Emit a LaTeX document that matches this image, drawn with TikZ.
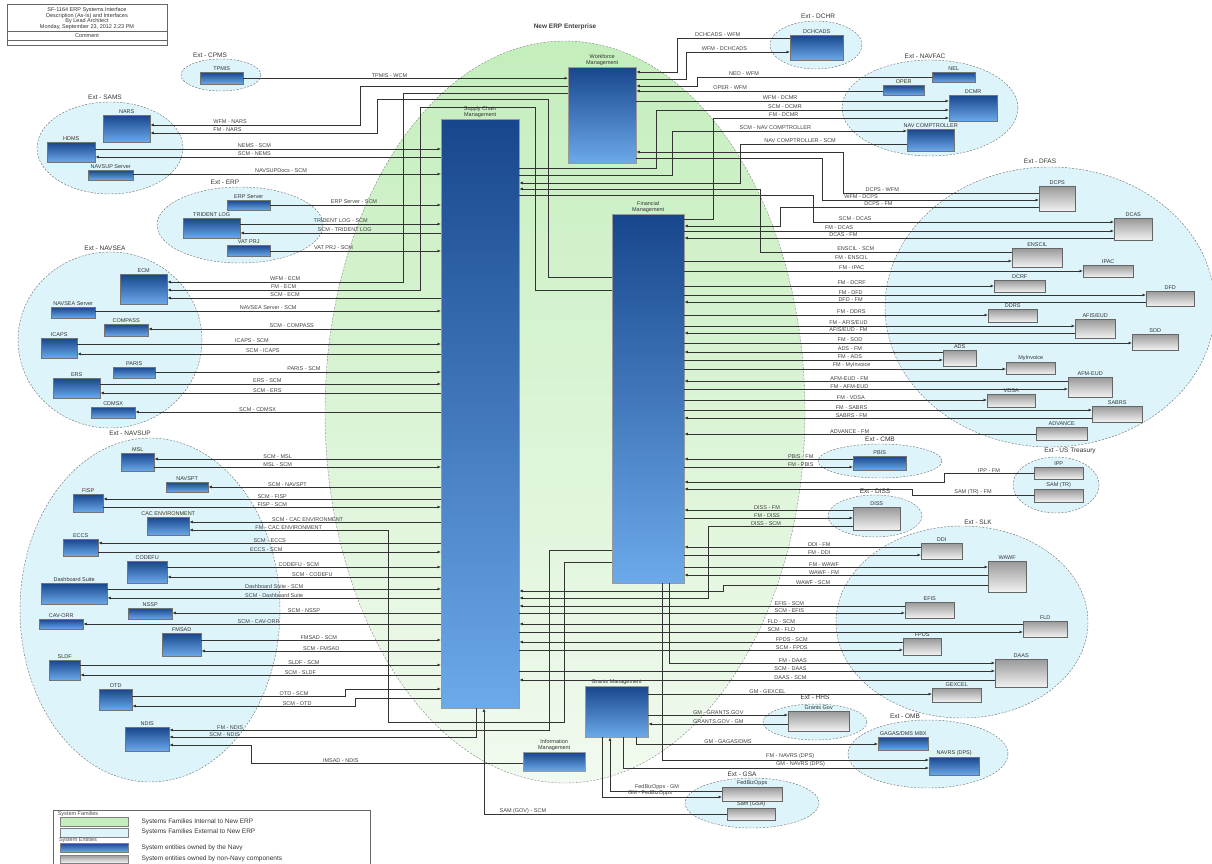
\documentclass[tikz,border=0pt]{standalone}
\usepackage{fontspec}
\setmainfont{Liberation Sans}
\usetikzlibrary{arrows.meta}

\definecolor{famfill}{RGB}{221,245,250}
\definecolor{entgreen}{RGB}{196,238,188}
\definecolor{entpale}{RGB}{241,250,239}
\definecolor{navytop}{RGB}{24,70,140}
\definecolor{navybot}{RGB}{108,170,234}

\newcommand{\linkfont}{\fontsize{5.5}{6}\selectfont}
\newcommand{\famfont}{\fontsize{6.5}{7}\selectfont}
% one system box: style, name, left, top, right, bottom, caption
\newcommand{\sysunit}[7]{%
  \node[#1, anchor=north west, minimum width={#5-#3}, minimum height={#6-#4},
        label={[boxlbl]above:{#7}}] (#2) at (#3,#4) {};}

\begin{document}
\begin{tikzpicture}[
  % one unit is one pixel of the sheet, rows counted downward
  x=1pt, y=-1pt,
  lnk/.style={draw=black!80, line width=0.7pt},
  inarr/.style={-{Latex[length=3.5pt,width=3pt]}},
  backarr/.style={{Latex[length=3.5pt,width=3pt]}-},
  lbl/.style={font=\linkfont, above, inner sep=0.6pt, text=black!75},
  boxlbl/.style={font=\linkfont, inner sep=1pt, align=center, text=black!80},
  navybox/.style={draw=black!55, top color=navytop, bottom color=navybot, inner sep=0pt},
  greybox/.style={draw=black!60, top color=black!40, bottom color=black!5, inner sep=0pt},
  bigbox/.style={draw=black!40, top color=navytop, bottom color=navybot, inner sep=0pt},
  famzone/.style={fill=famfill, draw=black!55, dash pattern=on 2pt off 1.5pt, line width=0.45pt},
  famtitle/.style={font=\famfont, text=black!80},
  sheettext/.style={font=\linkfont, text=black!80}
]
\useasboundingbox (0,0) rectangle (1212,864);

% 1) Title block, top left
\draw[black!60] (7,4) rectangle (167,45);
\draw[black!60] (7,31) -- (167,31) (7,40) -- (167,40);
\node[sheettext] (head1) at (87,10) {SF-1164 ERP Systems Interface};
\node[sheettext] (head2) at (87,16) {Description (As-Is) and Interfaces};
\node[sheettext] (head3) at (87,21.5) {By Lead Architect};
\node[sheettext] (head4) at (87,27) {Monday, September 23, 2012 2:23 PM};
\node[sheettext] (head5) at (87,35.5) {Comment};

% 2) Enterprise ellipse and the external families
\path[top color=entgreen, bottom color=entpale, draw=black!50, dash pattern=on 2pt off 1.5pt]
  (565,412) ellipse [x radius=240, y radius=371];
\node[font=\famfont\bfseries, text=black!75] (enttitle) at (565,27) {New ERP Enterprise};

\draw[famzone] (221,75) ellipse [x radius=40, y radius=16];
\draw[famzone] (110,148) ellipse [x radius=73, y radius=46];
\draw[famzone] (240,225) ellipse [x radius=83, y radius=38];
\draw[famzone] (110,340) ellipse [x radius=92, y radius=88];
\draw[famzone] (150,610) ellipse [x radius=130, y radius=172];
\draw[famzone] (816,45) ellipse [x radius=46, y radius=24];
\draw[famzone] (930,108) ellipse [x radius=88, y radius=48];
\draw[famzone] (1050,307) ellipse [x radius=165, y radius=140];
\draw[famzone] (880,461) ellipse [x radius=62, y radius=17];
\draw[famzone] (1056,485) ellipse [x radius=43, y radius=28];
\draw[famzone] (875,516) ellipse [x radius=47, y radius=21];
\draw[famzone] (962,622) ellipse [x radius=126, y radius=96];
\draw[famzone] (815,722) ellipse [x radius=52, y radius=18];
\draw[famzone] (928,754) ellipse [x radius=80, y radius=34];
\draw[famzone] (752,803) ellipse [x radius=67, y radius=25];

\node[famtitle] (tcpms) at (210,55) {Ext - CPMS};
\node[famtitle] (tsams) at (105,97) {Ext - SAMS};
\node[famtitle] (terp) at (225,182) {Ext - ERP};
\node[famtitle] (tnavsea) at (105,248) {Ext - NAVSEA};
\node[famtitle] (tnavsup) at (130,433) {Ext - NAVSUP};
\node[famtitle] (tdchr) at (818,16) {Ext - DCHR};
\node[famtitle] (tnavfac) at (925,56) {Ext - NAVFAC};
\node[famtitle] (tdfas) at (1040,161) {Ext - DFAS};
\node[famtitle] (tcmb) at (880,439) {Ext - CMB};
\node[famtitle] (tust) at (1070,451) {Ext - US Treasury};
\node[famtitle] (tdiss) at (875,491) {Ext - DISS};
\node[famtitle] (tslk) at (978,522) {Ext - SLK};
\node[famtitle] (thhs) at (815,697) {Ext - HHS};
\node[famtitle] (tomb) at (905,716) {Ext - OMB};
\node[famtitle] (tgsa) at (742,774) {Ext - GSA};

% 3) New ERP modules
\sysunit{bigbox}{wfm}{568}{67}{636}{163}{Workforce\\Management}
\sysunit{bigbox}{scm}{441}{119}{519}{708}{Supply Chain\\Management}
\sysunit{bigbox}{fm}{612}{214}{684}{583}{Financial\\Management}
\sysunit{bigbox}{gm}{585}{686}{648}{737}{Grants Management}
\sysunit{bigbox}{im}{523}{752}{585}{771}{Information\\Management}

% 4) Left families
\sysunit{navybox}{tpmis}{200}{72}{243}{84}{TPMIS}
\sysunit{navybox}{nars}{103}{115}{150}{142}{NARS}
\sysunit{navybox}{hdms}{47}{142}{95}{162}{HDMS}
\sysunit{navybox}{navsrv}{88}{170}{133}{180}{NAVSUP Server}
\sysunit{navybox}{erpsrv}{227}{200}{270}{210}{ERP Server}
\sysunit{navybox}{trident}{183}{218}{240}{238}{TRIDENT LOG}
\sysunit{navybox}{vatprj}{227}{245}{270}{256}{VAT PRJ}
\sysunit{navybox}{ecm}{120}{274}{167}{304}{ECM}
\sysunit{navybox}{seasrv}{51}{307}{95}{318}{NAVSEA Server}
\sysunit{navybox}{compass}{104}{324}{148}{336}{COMPASS}
\sysunit{navybox}{icaps}{41}{338}{77}{358}{ICAPS}
\sysunit{navybox}{paris}{113}{367}{155}{378}{PARIS}
\sysunit{navybox}{ers}{53}{378}{100}{398}{ERS}
\sysunit{navybox}{cdmsx}{91}{407}{135}{418}{CDMSX}
\sysunit{navybox}{msl}{121}{453}{154}{471}{MSL}
\sysunit{navybox}{navspt}{166}{482}{208}{492}{NAVSPT}
\sysunit{navybox}{fisp}{73}{494}{103}{512}{FISP}
\sysunit{navybox}{cac}{147}{517}{189}{535}{CAC ENVIRONMENT}
\sysunit{navybox}{eccs}{63}{539}{98}{556}{ECCS}
\sysunit{navybox}{codefu}{127}{561}{167}{583}{CODEFU}
\sysunit{navybox}{dashsuite}{41}{583}{107}{604}{Dashboard Suite}
\sysunit{navybox}{cavorr}{39}{619}{83}{629}{CAV-ORR}
\sysunit{navybox}{nssp}{128}{608}{172}{619}{NSSP}
\sysunit{navybox}{fmsad}{162}{633}{201}{656}{FMSAD}
\sysunit{navybox}{sldf}{49}{660}{80}{680}{SLDF}
\sysunit{navybox}{otd}{99}{689}{132}{710}{OTD}
\sysunit{navybox}{ndis}{125}{727}{169}{751}{NDIS}

% 5) Right families
\sysunit{navybox}{dchc}{790}{35}{843}{60}{DCHCADS}
\sysunit{navybox}{nel}{932}{72}{975}{82}{NEL}
\sysunit{navybox}{oper}{883}{85}{924}{95}{OPER}
\sysunit{navybox}{dcmr}{949}{95}{997}{121}{DCMR}
\sysunit{navybox}{navc}{907}{129}{954}{151}{NAV COMPTROLLER}
\sysunit{greybox}{dcps}{1039}{186}{1075}{211}{DCPS}
\sysunit{greybox}{dcas}{1114}{218}{1152}{240}{DCAS}
\sysunit{greybox}{enscil}{1012}{248}{1062}{267}{ENSCIL}
\sysunit{greybox}{ipac}{1083}{265}{1133}{277}{IPAC}
\sysunit{greybox}{dcrf}{994}{280}{1045}{292}{DCRF}
\sysunit{greybox}{dfd}{1146}{291}{1194}{306}{DFD}
\sysunit{greybox}{ddrs}{988}{309}{1037}{322}{DDRS}
\sysunit{greybox}{afis}{1075}{319}{1115}{338}{AFIS/EUD}
\sysunit{greybox}{sod}{1132}{334}{1178}{350}{SOD}
\sysunit{greybox}{ads}{943}{350}{976}{366}{ADS}
\sysunit{greybox}{myinv}{1006}{362}{1055}{374}{MyInvoice}
\sysunit{greybox}{afm}{1068}{377}{1112}{397}{AFM-EUD}
\sysunit{greybox}{vdsa}{987}{394}{1035}{407}{VDSA}
\sysunit{greybox}{sabrs}{1092}{406}{1142}{422}{SABRS}
\sysunit{greybox}{advance}{1036}{427}{1087}{440}{ADVANCE}
\sysunit{navybox}{pbis}{853}{456}{906}{470}{PBIS}
\sysunit{greybox}{ipp}{1034}{467}{1083}{479}{IPP}
\sysunit{greybox}{samtr}{1034}{489}{1083}{502}{SAM (TR)}
\sysunit{greybox}{diss}{853}{507}{900}{530}{DISS}
\sysunit{greybox}{ddi}{921}{543}{962}{559}{DDI}
\sysunit{greybox}{wawf}{988}{561}{1026}{592}{WAWF}
\sysunit{greybox}{efis}{905}{602}{954}{618}{EFIS}
\sysunit{greybox}{fld}{1023}{621}{1067}{637}{FLD}
\sysunit{greybox}{fpds}{903}{638}{941}{655}{FPDS}
\sysunit{greybox}{daas}{995}{659}{1047}{687}{DAAS}
\sysunit{greybox}{gexcel}{932}{688}{981}{702}{GEXCEL}
\sysunit{greybox}{grgov}{788}{711}{849}{731}{Grants Gov}
\sysunit{navybox}{omb1}{878}{737}{928}{750}{GAGAS/DMS MBX}
\sysunit{navybox}{navrs}{929}{757}{979}{775}{NAVRS (DPS)}
\sysunit{greybox}{fedbiz}{722}{787}{782}{801}{FedBizOpps}
\sysunit{greybox}{samgsa}{727}{808}{775}{820}{Sam (GSA)}

% 6) Interfaces, left side
\draw[lnk,inarr] (tpmis.east) -- node[lbl,pos=.45]{TPMIS - WCM} (wfm.west |- tpmis.east);
\draw[lnk,backarr] (nars.east |- 0,125) -| node[lbl,pos=.19]{WFM - NARS} (360,86) -- (wfm.west |- 0,86);
\draw[lnk,backarr] (nars.east |- 0,133) -| node[lbl,pos=.17]{FM - NARS} (377,99) -| (548,277) -- (fm.west |- 0,277);
\draw[lnk,inarr] (hdms.east |- 0,149) -- node[lbl,pos=.46]{NEMS - SCM} (scm.west |- 0,149);
\draw[lnk,backarr] (hdms.east |- 0,157) -- node[lbl,pos=.46]{SCM - NEMS} (scm.west |- 0,157);
\draw[lnk,inarr] (navsrv.east |- 0,174) -- node[lbl,pos=.48]{NAVSUPDocs - SCM} (scm.west |- 0,174);
\draw[lnk,inarr] (erpsrv.east |- 0,205) -- node[lbl,pos=.49]{ERP Server - SCM} (scm.west |- 0,205);
\draw[lnk,inarr] (trident.east |- 0,224) -- node[lbl,pos=.5]{TRIDENT LOG - SCM} (scm.west |- 0,224);
\draw[lnk,backarr] (trident.east |- 0,233) -- node[lbl,pos=.52]{SCM - TRIDENT LOG} (scm.west |- 0,233);
\draw[lnk,inarr] (vatprj.east |- 0,251) -- node[lbl,pos=.37]{VAT PRJ - SCM} (scm.west |- 0,251);
\draw[lnk,backarr] (ecm.east |- 0,282) -| node[lbl,pos=.25]{WFM - ECM} (403,93) -- (wfm.west |- 0,93);
\draw[lnk,backarr] (ecm.east |- 0,290) -| node[lbl,pos=.23]{FM - ECM} (420,107) -| (535,290) -- (fm.west |- 0,290);
\draw[lnk,backarr] (ecm.east |- 0,298) -- node[lbl,pos=.43]{SCM - ECM} (scm.west |- 0,298);
\draw[lnk,inarr] (seasrv.east |- 0,311) -- node[lbl,pos=.5]{NAVSEA Server - SCM} (scm.west |- 0,311);
\draw[lnk,backarr] (compass.east |- 0,329) -- node[lbl,pos=.49]{SCM - COMPASS} (scm.west |- 0,329);
\draw[lnk,inarr] (icaps.east |- 0,344) -- node[lbl,pos=.48]{ICAPS - SCM} (scm.west |- 0,344);
\draw[lnk,backarr] (icaps.east |- 0,354) -- node[lbl,pos=.51]{SCM - ICAPS} (scm.west |- 0,354);
\draw[lnk,inarr] (paris.east |- 0,372) -- node[lbl,pos=.52]{PARIS - SCM} (scm.west |- 0,372);
\draw[lnk,inarr] (ers.east |- 0,384) -- node[lbl,pos=.49]{ERS - SCM} (scm.west |- 0,384);
\draw[lnk,backarr] (ers.east |- 0,393) -- node[lbl,pos=.49]{SCM - ERS} (scm.west |- 0,393);
\draw[lnk,backarr] (cdmsx.east |- 0,412) -- node[lbl,pos=.40]{SCM - CDMSX} (scm.west |- 0,412);
\draw[lnk,backarr] (msl.east |- 0,459) -- node[lbl,pos=.43]{SCM - MSL} (scm.west |- 0,459);
\draw[lnk,inarr] (msl.east |- 0,467) -- node[lbl,pos=.43]{MSL - SCM} (scm.west |- 0,467);
\draw[lnk,backarr] (navspt.east |- 0,487) -- node[lbl,pos=.34]{SCM - NAVSPT} (scm.west |- 0,487);
\draw[lnk,backarr] (fisp.east |- 0,499) -- node[lbl,pos=.5]{SCM - FISP} (scm.west |- 0,499);
\draw[lnk,inarr] (fisp.east |- 0,507) -- node[lbl,pos=.5]{FISP - SCM} (scm.west |- 0,507);
\draw[lnk,backarr] (cac.east |- 0,522) -- node[lbl,pos=.47]{SCM - CAC ENVIRONMENT} (scm.west |- 0,522);
\draw[lnk,backarr] (cac.east |- 0,530) -| node[lbl,pos=.25]{FM - CAC ENVIRONMENT} (388,722) -| (564,562) -- (fm.west |- 0,562);
\draw[lnk,backarr] (eccs.east |- 0,543) -- node[lbl,pos=.5]{SCM - ECCS} (scm.west |- 0,543);
\draw[lnk,inarr] (eccs.east |- 0,552) -- node[lbl,pos=.49]{ECCS - SCM} (scm.west |- 0,552);
\draw[lnk,inarr] (codefu.east |- 0,567) -- node[lbl,pos=.48]{CODEFU - SCM} (scm.west |- 0,567);
\draw[lnk,backarr] (codefu.east |- 0,577) -- node[lbl,pos=.53]{SCM - CODEFU} (scm.west |- 0,577);
\draw[lnk,inarr] (dashsuite.east |- 0,589) -- node[lbl,pos=.5]{Dashboard Suite - SCM} (scm.west |- 0,589);
\draw[lnk,backarr] (dashsuite.east |- 0,598) -- node[lbl,pos=.5]{SCM - Dashboard Suite} (scm.west |- 0,598);
\draw[lnk,backarr] (nssp.east |- 0,613) -- node[lbl,pos=.49]{SCM - NSSP} (scm.west |- 0,613);
\draw[lnk,backarr] (cavorr.east |- 0,624) -- node[lbl,pos=.49]{SCM - CAV-ORR} (scm.west |- 0,624);
\draw[lnk,inarr] (fmsad.east |- 0,640) -- node[lbl,pos=.49]{FMSAD - SCM} (scm.west |- 0,640);
\draw[lnk,backarr] (fmsad.east |- 0,651) -- node[lbl,pos=.5]{SCM - FMSAD} (scm.west |- 0,651);
\draw[lnk,inarr] (sldf.east |- 0,665) -- node[lbl,pos=.62]{SLDF - SCM} (scm.west |- 0,665);
\draw[lnk,backarr] (sldf.east |- 0,675) -- node[lbl,pos=.61]{SCM - SLDF} (scm.west |- 0,675);
\draw[lnk,inarr] (otd.east |- 0,696) -| node[lbl,pos=.38]{OTD - SCM} (345,689) -- (scm.west |- 0,689);
\draw[lnk,backarr] (otd.east |- 0,706) -| node[lbl,pos=.37]{SCM - OTD} (355,698) -- (scm.west |- 0,698);
\draw[lnk,backarr] (ndis.east |- 0,730) -| node[lbl,pos=.08]{FM - NDIS} (549,550) -- (fm.west |- 0,550);
\draw[lnk,backarr] (ndis.east |- 0,737) -| node[lbl,pos=.09]{SCM - NDIS} (scm.south -| 476,0);
\draw[lnk,backarr] (ndis.east |- 0,745) -| (251,763) -- node[lbl,pos=.33]{IMSAD - NDIS} (im.west |- 0,763);

% 7) Interfaces, top right
\draw[lnk,inarr] (dchc.west |- 0,38) -| node[lbl,pos=.32]{DCHCADS - WFM} (677,72) -- (wfm.east |- 0,72);
\draw[lnk,inarr] (wfm.east |- 0,79) -| (686,52) -- node[lbl,pos=.37]{WFM - DCHCADS} (dchc.west |- 0,52);
\draw[lnk,inarr] (nel.west |- 0,77) -| node[lbl,pos=.4]{NEO - WFM} (697,86) -- (wfm.east |- 0,86);
\draw[lnk,inarr] (oper.west |- 0,91) -- node[lbl,pos=.62]{OPER - WFM} (wfm.east |- 0,91);
\draw[lnk,inarr] (wfm.east |- 0,101) -- node[lbl,pos=.46]{WFM - DCMR} (dcmr.west |- 0,101);
\draw[lnk,inarr] (scm.east |- 0,168) -| (656,110) -- node[lbl,pos=.44]{SCM - DCMR} (dcmr.west |- 0,110);
\draw[lnk,inarr] (fm.east |- 0,219) -| (713,118) -- node[lbl,pos=.3]{FM - DCMR} (dcmr.west |- 0,118);
\draw[lnk,inarr] (scm.east |- 0,175) -| (672,131) -- node[lbl,pos=.44]{SCM - NAV COMPTROLLER} (navc.west |- 0,131);
\draw[lnk,inarr] (navc.west |- 0,144) -| node[lbl,pos=.32]{NAV COMPTROLLER - SCM} (740,183) -- (scm.east |- 0,183);

% 8) Interfaces, DFAS
\draw[lnk,inarr] (dcps.west |- 0,193) -| node[lbl,pos=.4]{DCPS - WFM} (843,152) -- (wfm.east |- 0,152);
\draw[lnk,inarr] (wfm.east |- 0,158) -| (822,200) -- node[lbl,pos=.18]{WFM - DCPS} (dcps.west |- 0,200);
\draw[lnk,inarr] (dcps.west |- 0,207) -| node[lbl,pos=.31]{DCPS - FM} (780,226) -- (fm.east |- 0,226);
\draw[lnk,inarr] (scm.east |- 0,195) -| (813,222) -- node[lbl,pos=.14]{SCM - DCAS} (dcas.west |- 0,222);
\draw[lnk,inarr] (fm.east |- 0,231) -- node[lbl,pos=.36]{FM - DCAS} (dcas.west |- 0,231);
\draw[lnk,backarr] (fm.east |- 0,238) -- node[lbl,pos=.37]{DCAS - FM} (dcas.west |- 0,238);
\draw[lnk,inarr] (enscil.west |- 0,252) -| node[lbl,pos=.31]{ENSCIL - SCM} (760,189) -- (scm.east |- 0,189);
\draw[lnk,inarr] (fm.east |- 0,261) -- node[lbl,pos=.51]{FM - ENSCIL} (enscil.west |- 0,261);
\draw[lnk,inarr] (fm.east |- 0,271) -- node[lbl,pos=.42]{FM - IPAC} (ipac.west |- 0,271);
\draw[lnk,inarr] (fm.east |- 0,286) -- node[lbl,pos=.54]{FM - DCRF} (dcrf.west |- 0,286);
\draw[lnk,inarr] (fm.east |- 0,295) -- node[lbl,pos=.36]{FM - DFD} (dfd.west |- 0,295);
\draw[lnk,backarr] (fm.east |- 0,302) -- node[lbl,pos=.36]{DFD - FM} (dfd.west |- 0,302);
\draw[lnk,inarr] (fm.east |- 0,315) -- node[lbl,pos=.55]{FM - DDRS} (ddrs.west |- 0,315);
\draw[lnk,inarr] (fm.east |- 0,326) -- node[lbl,pos=.42]{FM - AFIS/EUD} (afis.west |- 0,326);
\draw[lnk,backarr] (fm.east |- 0,333) -- node[lbl,pos=.42]{AFIS/EUD - FM} (afis.west |- 0,333);
\draw[lnk,inarr] (fm.east |- 0,343) -- node[lbl,pos=.37]{FM - SOD} (sod.west |- 0,343);
\draw[lnk,backarr] (fm.east |- 0,352) -- node[lbl,pos=.64]{ADS - FM} (ads.west |- 0,352);
\draw[lnk,inarr] (fm.east |- 0,360) -- node[lbl,pos=.64]{FM - ADS} (ads.west |- 0,360);
\draw[lnk,inarr] (fm.east |- 0,369) -- node[lbl,pos=.52]{FM - MyInvoice} (myinv.west |- 0,369);
\draw[lnk,backarr] (fm.east |- 0,381) -- node[lbl,pos=.43]{AFM-EUD - FM} (afm.west |- 0,381);
\draw[lnk,inarr] (fm.east |- 0,389) -- node[lbl,pos=.43]{FM - AFM-EUD} (afm.west |- 0,389);
\draw[lnk,inarr] (fm.east |- 0,400) -- node[lbl,pos=.55]{FM - VDSA} (vdsa.west |- 0,400);
\draw[lnk,inarr] (fm.east |- 0,410) -- node[lbl,pos=.41]{FM - SABRS} (sabrs.west |- 0,410);
\draw[lnk,backarr] (fm.east |- 0,418) -- node[lbl,pos=.41]{SABRS - FM} (sabrs.west |- 0,418);
\draw[lnk,backarr] (fm.east |- 0,434) -- node[lbl,pos=.47]{ADVANCE - FM} (advance.west |- 0,434);

% 9) Interfaces, CMB, Treasury, DISS, SLK
\draw[lnk,backarr] (fm.east |- 0,459) -- node[lbl,pos=.69]{PBIS - FM} (pbis.west |- 0,459);
\draw[lnk,inarr] (fm.east |- 0,467) -- node[lbl,pos=.69]{FM - PBIS} (pbis.west |- 0,467);
\draw[lnk,inarr] (ipp.west) -| node[lbl,pos=.25]{IPP - FM} (944,482) -- (fm.east |- 0,482);
\draw[lnk,inarr] (samtr.west) -| node[lbl,pos=.25]{SAM (TR) - FM} (912,489) -- (fm.east |- 0,489);
\draw[lnk,backarr] (fm.east |- 0,510) -- node[lbl,pos=.49]{DISS - FM} (diss.west |- 0,510);
\draw[lnk,inarr] (fm.east |- 0,518) -- node[lbl,pos=.49]{FM - DISS} (diss.west |- 0,518);
\draw[lnk,inarr] (diss.west |- 0,526) -| node[lbl,pos=.3]{DISS - SCM} (708,598) -- (scm.east |- 0,598);
\draw[lnk,backarr] (fm.east |- 0,547) -- node[lbl,pos=.57]{DDI - FM} (ddi.west |- 0,547);
\draw[lnk,inarr] (fm.east |- 0,555) -- node[lbl,pos=.57]{FM - DDI} (ddi.west |- 0,555);
\draw[lnk,inarr] (fm.east |- 0,567) -- node[lbl,pos=.46]{FM - WAWF} (wawf.west |- 0,567);
\draw[lnk,backarr] (fm.east |- 0,575) -- node[lbl,pos=.46]{WAWF - FM} (wawf.west |- 0,575);
\draw[lnk,inarr] (wawf.west |- 0,585) -| node[lbl,pos=.33]{WAWF - SCM} (723,591) -- (scm.east |- 0,591);
\draw[lnk,backarr] (scm.east |- 0,606) -- node[lbl,pos=.70]{EFIS - SCM} (efis.west |- 0,606);
\draw[lnk,inarr] (scm.east |- 0,613) -- node[lbl,pos=.70]{SCM - EFIS} (efis.west |- 0,613);
\draw[lnk,backarr] (scm.east |- 0,624) -- node[lbl,pos=.52]{FLD - SCM} (fld.west |- 0,624);
\draw[lnk,inarr] (scm.east |- 0,632) -- node[lbl,pos=.52]{SCM - FLD} (fld.west |- 0,632);
\draw[lnk,backarr] (scm.east |- 0,642) -- node[lbl,pos=.71]{FPDS - SCM} (fpds.west |- 0,642);
\draw[lnk,inarr] (scm.east |- 0,650) -- node[lbl,pos=.71]{SCM - FPDS} (fpds.west |- 0,650);
\draw[lnk,inarr] (fm.south -| 669,0) |- node[lbl,pos=.69]{FM - DAAS} (daas.west |- 0,663);
\draw[lnk,inarr] (scm.east |- 0,671) -- node[lbl,pos=.57]{SCM - DAAS} (daas.west |- 0,671);
\draw[lnk,backarr] (scm.east |- 0,680) -- node[lbl,pos=.57]{DAAS - SCM} (daas.west |- 0,680);

% 10) Interfaces, grants and the bottom families
\draw[lnk,inarr] (gm.east |- 0,694) -- node[lbl,pos=.42]{GM - GEXCEL} (gexcel.west |- 0,694);
\draw[lnk,inarr] (gm.east |- 0,715) -- node[lbl,pos=.5]{GM - GRANTS.GOV} (grgov.west |- 0,715);
\draw[lnk,backarr] (gm.east |- 0,724) -- node[lbl,pos=.5]{GRANTS.GOV - GM} (grgov.west |- 0,724);
\draw[lnk,inarr] (gm.south -| 636,0) |- node[lbl,pos=.69]{GM - GAGAS/DMS} (omb1.west |- 0,744);
\draw[lnk,inarr] (fm.south -| 662,0) |- node[lbl,pos=.74]{FM - NAVRS (DPS)} (navrs.west |- 0,760);
\draw[lnk,inarr] (gm.south -| 623,0) |- node[lbl,pos=.79]{GM - NAVRS (DPS)} (navrs.west |- 0,768);
\draw[lnk,inarr] (fedbiz.west |- 0,791) -| node[lbl,pos=.29]{FedBizOpps - GM} (gm.south -| 610,0);
\draw[lnk,inarr] (gm.south -| 602,0) |- node[lbl,pos=.7]{GM - FedBizOpps} (fedbiz.west |- 0,797);
\draw[lnk,inarr] (samgsa.west) -| node[lbl,pos=.42]{SAM (GOV) - SCM} (scm.south -| 484,0);

% 11) Legend, bottom left (its lower edge runs off the sheet)
\draw[black!60] (53,864) |- (370,810) -- (370,864);
\node[font=\linkfont, text=black!70] (legfam) at (78,814) {System Families};
\path[draw=black!50, fill=entgreen] (60,817) rectangle (128,826);
\node[sheettext, anchor=west, font=\famfont] (leg1) at (138,822) {Systems Families Internal to New ERP};
\path[draw=black!50, fill=famfill] (60,828) rectangle (128,837);
\node[sheettext, anchor=west, font=\famfont] (leg2) at (138,832) {Systems Families External to New ERP};
\node[font=\linkfont, text=black!70] (legent) at (78,840.5) {System Entities};
\path[draw=black!50, top color=navytop, bottom color=navybot] (60,843) rectangle (128,852);
\node[sheettext, anchor=west, font=\famfont] (leg3) at (138,848) {System entities owned by the Navy};
\path[draw=black!50, top color=black!40, bottom color=black!5] (60,855) rectangle (128,863);
\node[sheettext, anchor=west, font=\famfont] (leg4) at (138,859) {System entities owned by non-Navy components};

\end{tikzpicture}
\end{document}
